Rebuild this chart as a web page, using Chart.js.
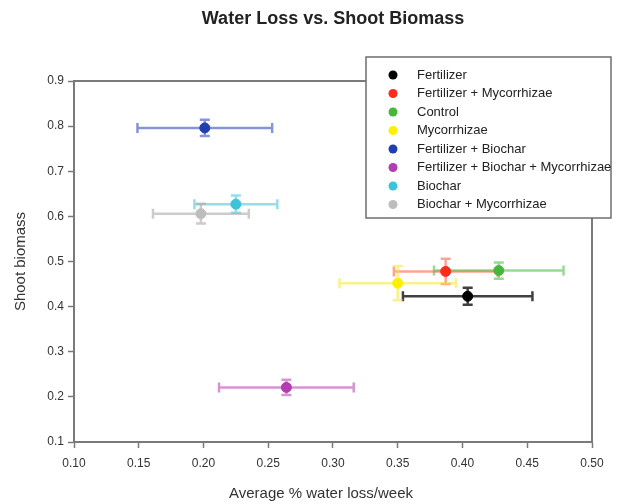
<!DOCTYPE html>
<html>
<head>
<meta charset="utf-8">
<script src="https://cdn.jsdelivr.net/npm/chart.js@4"></script>
<style>
  html, body { margin: 0; padding: 0; background: #fff; }
  #wrap { width: 642px; height: 504px; }
</style>
</head>
<body>
<div id="wrap"><canvas id="chart" width="642" height="504"></canvas></div>
<script>
const treatments = [
    "Fertilizer",
    "Fertilizer + Mycorrhizae",
    "Control",
    "Mycorrhizae",
    "Fertilizer + Biochar",
    "Fertilizer + Biochar + Mycorrhizae",
    "Biochar",
    "Biochar + Mycorrhizae"
];
const waterLoss    = [0.404, 0.387, 0.428, 0.350, 0.201, 0.264, 0.225, 0.198];
const waterLossErr = [0.050, 0.040, 0.050, 0.045, 0.052, 0.052, 0.032, 0.037];
const biomass      = [0.423, 0.478, 0.480, 0.452, 0.796, 0.221, 0.627, 0.606];
const biomassErr   = [0.019, 0.028, 0.018, 0.038, 0.018, 0.017, 0.019, 0.022];
const xTicks = [0.10, 0.15, 0.20, 0.25, 0.30, 0.35, 0.40, 0.45, 0.50];
const yTicks = [0.1, 0.2, 0.3, 0.4, 0.5, 0.6, 0.7, 0.8, 0.9];

const chartTitle = "Water Loss vs. Shoot Biomass";
const xTitle = "Average % water loss/week";
const yTitle = "Shoot biomass";

const colors = ["#000000", "#ff2a1a", "#45b83a", "#fff000", "#1f3fae", "#b23cb0", "#3cc4dc", "#bdbdbd"];
const barColors = ["rgba(0,0,0,0.75)", "rgba(255,90,60,0.55)", "rgba(70,185,60,0.55)", "rgba(245,230,40,0.55)",
                   "rgba(40,60,180,0.55)", "rgba(180,60,175,0.55)", "rgba(60,195,220,0.55)", "rgba(170,170,170,0.6)"];

const FONT = "'Liberation Sans', Arial, sans-serif";

let datasets = treatments.map((name, i) => ({
    label: name,
    data: [{ x: waterLoss[i], y: biomass[i] }],
    backgroundColor: colors[i],
    borderColor: colors[i],
    pointRadius: 5,
    pointHoverRadius: 5
}));

// error bars, frame, titles and legend box
const extras = {
    id: "extras",
    beforeDatasetsDraw(chart) {
        const ctx = chart.ctx;
        const xs = chart.scales.x, ys = chart.scales.y;
        const a = chart.chartArea;
        ctx.save();
        ctx.strokeStyle = "#7a7a7a";
        ctx.lineWidth = 2;
        ctx.beginPath();
        ctx.moveTo(a.left, a.top);
        ctx.lineTo(a.right, a.top);
        ctx.lineTo(a.right, a.bottom);
        ctx.stroke();
        for (let i = 0; i < treatments.length; i++) {
            let cx = xs.getPixelForValue(waterLoss[i]);
            let cy = ys.getPixelForValue(biomass[i]);
            let x1 = xs.getPixelForValue(waterLoss[i] - waterLossErr[i]);
            let x2 = xs.getPixelForValue(waterLoss[i] + waterLossErr[i]);
            let y1 = ys.getPixelForValue(biomass[i] + biomassErr[i]);
            let y2 = ys.getPixelForValue(biomass[i] - biomassErr[i]);
            ctx.strokeStyle = barColors[i];
            ctx.lineWidth = 2.5;
            ctx.beginPath();
            ctx.moveTo(x1, cy); ctx.lineTo(x2, cy);
            ctx.moveTo(x1, cy - 5); ctx.lineTo(x1, cy + 5);
            ctx.moveTo(x2, cy - 5); ctx.lineTo(x2, cy + 5);
            ctx.moveTo(cx, y1); ctx.lineTo(cx, y2);
            ctx.moveTo(cx - 5, y1); ctx.lineTo(cx + 5, y1);
            ctx.moveTo(cx - 5, y2); ctx.lineTo(cx + 5, y2);
            ctx.stroke();
        }
        ctx.restore();
    },
    afterDraw(chart) {
        const ctx = chart.ctx;
        const a = chart.chartArea;
        ctx.save();
        // titles
        ctx.textAlign = "center";
        ctx.textBaseline = "middle";
        ctx.fillStyle = "#222";
        ctx.font = "bold 18px " + FONT;
        ctx.fillText(chartTitle, (a.left + a.right) / 2, 19);
        ctx.fillStyle = "#333";
        ctx.font = "15px " + FONT;
        ctx.fillText(xTitle, 321, 494);
        ctx.save();
        ctx.translate(21, (a.top + a.bottom) / 2);
        ctx.rotate(-Math.PI / 2);
        ctx.fillText(yTitle, 0, 0);
        ctx.restore();
        // legend
        ctx.textAlign = "left";
        ctx.fillStyle = "#ffffff";
        ctx.fillRect(366, 57, 245, 161);
        ctx.strokeStyle = "#6e6e6e";
        ctx.lineWidth = 1.5;
        ctx.strokeRect(366, 57, 245, 161);
        ctx.beginPath();
        ctx.rect(366, 57, 245, 161);
        ctx.clip();
        ctx.font = "13px " + FONT;
        chart.data.datasets.forEach((ds, i) => {
            let y = 75 + i * 18.5;
            ctx.fillStyle = ds.backgroundColor;
            ctx.beginPath();
            ctx.arc(393, y, 4.5, 0, Math.PI * 2);
            ctx.fill();
            ctx.fillStyle = "#222";
            ctx.fillText(ds.label, 417, y);
        });
        ctx.restore();
    }
};

new Chart(document.getElementById("chart").getContext("2d"), {
    type: "scatter",
    data: { datasets },
    plugins: [extras],
    options: {
        responsive: false,
        animation: false,
        layout: { padding: { left: 0, right: 50, top: 81, bottom: 0 } },
        plugins: {
            legend: { display: false },
            tooltip: { enabled: false },
            title: { display: false }
        },
        scales: {
            x: {
                type: "linear",
                min: xTicks[0],
                max: xTicks[xTicks.length - 1],
                afterFit: s => { s.height = 62; },
                afterBuildTicks: s => { s.ticks = xTicks.map(v => ({ value: v })); },
                ticks: {
                    color: "#333",
                    font: { family: FONT, size: 12 },
                    padding: 8,
                    callback: v => v.toFixed(2)
                },
                grid: { drawOnChartArea: false, tickLength: 6, color: "#7a7a7a", tickWidth: 1.5 },
                border: { color: "#7a7a7a", width: 2 }
            },
            y: {
                type: "linear",
                min: yTicks[0],
                max: yTicks[yTicks.length - 1],
                afterFit: s => { s.width = 74; },
                afterBuildTicks: s => { s.ticks = yTicks.map(v => ({ value: v })); },
                ticks: {
                    color: "#333",
                    font: { family: FONT, size: 12 },
                    padding: 4,
                    callback: v => v.toFixed(1)
                },
                grid: { drawOnChartArea: false, tickLength: 6, color: "#7a7a7a", tickWidth: 1.5 },
                border: { color: "#7a7a7a", width: 2 }
            }
        }
    }
});
</script>
</body>
</html>
